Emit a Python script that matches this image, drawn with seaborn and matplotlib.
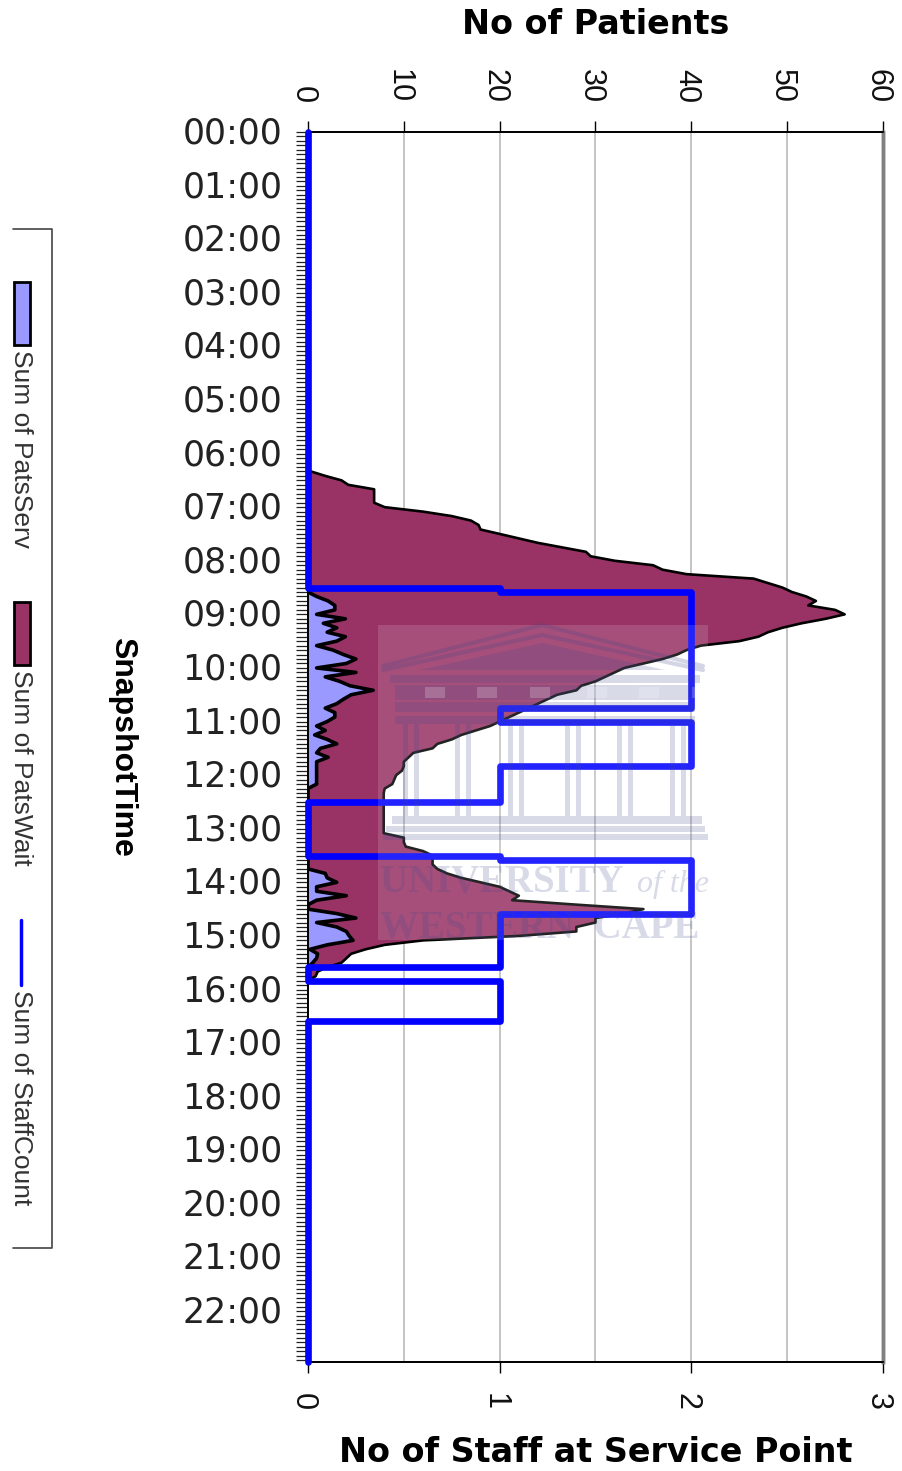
import numpy as np
import seaborn as sns
import matplotlib.pyplot as plt
from matplotlib.patches import Rectangle, Polygon
from matplotlib.transforms import ScaledTranslation

# Patients per 5 minute snapshot, first snapshot is 06:20
first_snapshot = 380
pats_total = [0.3, 1.8, 3.5, 4.2, 6.9, 6.9, 6.9, 6.9, 8, 12, 15, 17, 17.8, 18, 20, 22, 24, 26.5, 29, 29.5,
              32, 36, 37, 39.5, 46.5, 48, 49.5, 50.5, 52, 53, 52.2, 55, 56, 54, 51.5, 49.5, 48, 47, 45, 41,
              39.5, 38.5, 37, 35, 33, 32, 31, 30, 28.5, 28, 26, 25, 24, 23, 22, 21, 20, 19, 17.5, 16,
              15, 13.5, 13, 11, 10.5, 10, 10, 9.8, 9.2, 9, 8.8, 8, 7.9, 7.9, 7.9, 7.9, 7.9, 7.9, 7.9, 7.9,
              7.9, 7.9, 10, 10, 10.2, 12, 13, 13, 13, 13.5, 14.5, 16, 18, 20, 21, 22, 21.3, 28, 35, 33,
              30, 30, 28, 28, 22, 12, 8, 6, 4.5, 4, 3.5, 2, 1, 0.8, 0]
pats_serv = [0] * 28 + [0.9, 2.1, 2.8, 2.8, 0.9, 3.9, 1.6, 3, 2, 3.9, 3, 0.9, 2.6, 3.7, 5, 4, 0.9, 5, 1.8, 3.3,
                        4.4, 6.8, 4.5, 3.7, 3, 1.8, 2.8, 2.8, 2, 0.9, 1.8, 0.7, 2, 3, 1.3, 0.9, 2.1, 0.9, 0.9, 0.9,
                        0.9, 0.9, 0.9] + [0] * 19 + [1.8, 2, 3, 0.9, 0.9, 4, 0.9, 0, 0, 3, 5, 0.9, 3, 4, 4.3, 4.7,
                                                     2, 0.2, 1, 0.9, 0.5, 0, 0, 0, 0]
pats_wait = np.array(pats_total) - np.array(pats_serv)

# Staff on duty, each count holds from its time until the next time (minutes after midnight)
staff_times = [0, 510, 515, 645, 660, 710, 750, 810, 815, 875, 935, 950, 995, 1377]
staff_count = [0, 1, 2, 1, 2, 1, 0, 1, 2, 1, 0, 1, 0, 0]

hour_labels = ["%02d:00" % h for h in range(23)]
patient_ticks = [0, 10, 20, 30, 40, 50, 60]
staff_ticks = [0, 1, 2, 3]
legend_names = ["Sum of PatsServ", "Sum of PatsWait", "Sum of StaffCount"]

serv_color = "#9999FF"
wait_color = "#993366"
staff_color = "#0000FF"
mark_color = "#3C468C"

W, H = 903, 1471
minutes = first_snapshot + 5 * np.arange(len(pats_total))
wait_top = np.array(pats_serv) + pats_wait

sns.set_theme(style="white")
plt.rcParams["font.family"] = ["Liberation Sans", "DejaVu Sans"]
fig = plt.figure(figsize=(W / 100, H / 100), dpi=100)
ax = fig.add_axes([308 / W, 1 - 1362 / H, 575 / W, 1230 / H])
ax2 = ax.twiny()

# stacked areas, time runs downwards
ax.fill_betweenx(minutes, 0, pats_serv, color=serv_color, lw=0, zorder=2)
ax.fill_betweenx(minutes, pats_serv, wait_top, color=wait_color, lw=0, zorder=2)
sns.lineplot(x=wait_top, y=minutes, orient="y", estimator=None, sort=False, color="black", lw=1.9, ax=ax, zorder=3)
sns.lineplot(x=pats_serv, y=minutes, orient="y", estimator=None, sort=False, color="black", lw=2.6, ax=ax, zorder=3)

left_shift = ScaledTranslation(-5 / 100, 0, fig.dpi_scale_trans)
up_shift = ScaledTranslation(0, 2 / 100, fig.dpi_scale_trans)

ax.set_xlim(0, 60)
ax.set_ylim(1377, 0)
ax.xaxis.tick_top()
ax.xaxis.set_label_position("top")
ax.set_xticks(patient_ticks)
ax.set_yticks(np.arange(23) * 60)
ax.set_yticklabels(hour_labels, fontsize=25, color="#222222", family="DejaVu Sans", va="center_baseline")
ax.set_yticks(np.arange(0, 1377, 5), minor=True)
ax.tick_params(axis="y", which="both", length=8.5, width=0.9, color="#222222", left=True, pad=10)
ax.tick_params(axis="x", length=8, width=1, color="black", top=True, bottom=False, pad=13)
for t in ax.get_yticklabels():
    t.set_transform(t.get_transform() + up_shift)
for t in ax.get_xticklabels():
    t.set_rotation(-90)
    t.set_fontsize(22)
    t.set_color("#111111")
    t.set_transform(t.get_transform() + left_shift)
ax.grid(axis="x", color="#C4C4C4", lw=1.4, zorder=1)
ax.set_axisbelow(True)
ax.set_xlabel("No of Patients", fontsize=24, fontweight="bold", family="DejaVu Sans", color="black", labelpad=25)
ax.set_ylabel("SnapshotTime", fontsize=23, fontweight="bold", rotation=-90, color="black", labelpad=54)

sns.lineplot(x=staff_count, y=staff_times, orient="y", estimator=None, sort=False, color=staff_color, lw=4.8,
             drawstyle="steps-pre", ax=ax2, zorder=5, clip_on=False)
ax2.set_xlim(0, 3)
ax2.set_ylim(1377, 0)
ax2.set_ylabel("")
ax2.xaxis.tick_bottom()
ax2.xaxis.set_label_position("bottom")
ax2.set_xticks(staff_ticks)
ax2.tick_params(axis="x", length=8, width=1, color="black", bottom=True, top=False, pad=14)
for t in ax2.get_xticklabels():
    t.set_rotation(-90)
    t.set_fontsize(22)
    t.set_color("#111111")
    t.set_transform(t.get_transform() + left_shift)
ax2.set_xlabel("No of Staff at Service Point", fontsize=24, fontweight="bold", family="DejaVu Sans", color="black",
               labelpad=19)

for a in (ax, ax2):
    a.spines["top"].set(color="black", lw=1.3)
    a.spines["bottom"].set(color="black", lw=1.3)
    a.spines["left"].set(color="black", lw=1.3)
    a.spines["right"].set(color="#808080", lw=2.5)

# overlay in pixel coordinates: legend box and the university watermark
over = fig.add_axes([0, 0, 1, 1], facecolor="none")
over.set_xlim(0, W)
over.set_ylim(H, 0)
over.axis("off")

over.plot([13, 52, 52, 13], [229, 229, 1248, 1248], color="#444444", lw=1.2)
over.add_patch(Rectangle((14, 282), 16, 63, fc=serv_color, ec="black", lw=2))
over.add_patch(Rectangle((14, 602), 16, 63, fc=wait_color, ec="black", lw=2))
over.plot([21, 21], [920, 985], color=staff_color, lw=2.5)
for name, y0 in zip(legend_names, [350, 670, 990]):
    over.text(21, y0, name, rotation=-90, ha="center", va="top", fontsize=19, color="#333333")

over.add_patch(Rectangle((378, 625), 330, 315, fc="white", ec="none", alpha=0.14, zorder=10))
for apex, side, lw in [(625, 666, 3), (635, 670, 3)]:
    over.plot([383, 542, 703], [side, apex, side], color=mark_color, lw=lw, alpha=0.22, zorder=11)
over.add_patch(Polygon([(420, 670), (542, 643), (665, 670)], fc=mark_color, ec="none", alpha=0.2, zorder=11))
for x0, x1, y0, y1 in [(390, 700, 675, 683), (395, 695, 685, 700), (395, 695, 702, 712), (395, 695, 716, 724),
                       (392, 702, 816, 824), (386, 705, 826, 832), (383, 708, 834, 840)]:
    over.add_patch(Rectangle((x0, y0), x1 - x0, y1 - y0, fc=mark_color, ec="none", alpha=0.2, zorder=11))
for x0 in [403, 455, 508, 565, 617, 670]:
    for dx in (0, 11):
        over.add_patch(Rectangle((x0 + dx, 724), 5, 92, fc=mark_color, ec="none", alpha=0.2, zorder=11))
    over.add_patch(Rectangle((x0 + 22, 687), 20, 11, fc="white", ec="none", alpha=0.2, zorder=11))
over.text(380, 892, "UNIVERSITY", family="Liberation Serif", fontweight="bold", fontsize=28, color=mark_color,
          alpha=0.2, va="baseline", zorder=11)
over.text(637, 892, "of the", family="Liberation Serif", style="italic", fontsize=23, color=mark_color,
          alpha=0.2, va="baseline", zorder=11)
over.text(380, 938, "WESTERN  CAPE", family="Liberation Serif", fontweight="bold", fontsize=28, color=mark_color,
          alpha=0.2, va="baseline", zorder=11)

fig.savefig("out.png", dpi=100)
